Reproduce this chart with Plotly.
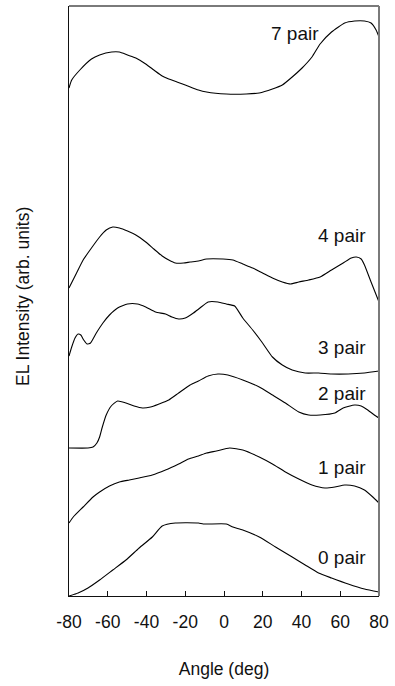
import plotly.graph_objects as go

# Angular electroluminescence profiles, vertically offset for each pair count
angle_0 = [-80, -75.3, -70.2, -64.2, -57.4, -50.6, -43.8, -37.0, -31.9, -25.1, -13.2, -10.7,
           1.2, 4.6, 9.7, 18.2, 26.6, 35.2, 41.9, 48.8, 55.5, 64.1, 72.5, 80]
el_0 = [0.00, 0.03, 0.08, 0.16, 0.26, 0.36, 0.48, 0.59, 0.70, 0.73, 0.73, 0.72,
        0.72, 0.69, 0.66, 0.59, 0.49, 0.39, 0.31, 0.23, 0.18, 0.12, 0.07, 0.04]

angle_1 = [-80, -77.8, -72.7, -67.6, -64.2, -59.1, -54.0, -48.9, -43.8, -37.0, -30.2, -23.4,
           -18.3, -13.2, -9.0, -3.9, 2.9, 9.7, 18.2, 25.0, 31.7, 38.6, 45.4, 52.1, 57.2,
           62.3, 67.4, 72.5, 76.8, 80]
el_1 = [0.73, 0.79, 0.89, 0.99, 1.04, 1.10, 1.14, 1.16, 1.18, 1.21, 1.26, 1.32,
        1.37, 1.40, 1.43, 1.45, 1.48, 1.46, 1.39, 1.32, 1.24, 1.17, 1.11, 1.08, 1.09,
        1.11, 1.10, 1.06, 0.99, 0.93]

angle_2 = [-80, -70.2, -67.6, -65.6, -64.2, -62.8, -60.8, -58.2, -54.9, -50.6, -46.4, -42.1,
           -37.9, -33.6, -28.5, -23.4, -17.5, -13.2, -8.2, -3.1, 2.0, 9.7, 18.2, 25.0,
           31.7, 38.6, 43.7, 49.6, 57.2, 61.5, 67.4, 70.8, 74.2, 77.6, 80]
el_2 = [1.48, 1.48, 1.49, 1.53, 1.59, 1.69, 1.81, 1.90, 1.95, 1.93, 1.90, 1.88,
        1.89, 1.92, 1.96, 2.03, 2.11, 2.15, 2.20, 2.22, 2.21, 2.16, 2.09, 2.01,
        1.93, 1.84, 1.81, 1.81, 1.83, 1.88, 1.91, 1.90, 1.86, 1.81, 1.78]

angle_3 = [-80, -78.6, -76.9, -75.3, -73.9, -72.4, -70.7, -68.9, -65.9, -62.5, -59.1, -54.9,
           -49.8, -44.7, -40.4, -35.3, -30.2, -26.9, -23.4, -20.0, -15.8, -12.4, -8.2, -3.1,
           1.2, 5.5, 9.7, 14.8, 19.9, 25.0, 30.1, 35.2, 41.9, 48.8, 55.5, 64.1, 72.5, 80]
el_3 = [2.40, 2.49, 2.58, 2.62, 2.61, 2.56, 2.52, 2.53, 2.63, 2.73, 2.81, 2.88,
        2.92, 2.92, 2.89, 2.84, 2.82, 2.79, 2.77, 2.78, 2.83, 2.88, 2.94, 2.94,
        2.92, 2.90, 2.78, 2.66, 2.53, 2.39, 2.31, 2.26, 2.23, 2.23, 2.22, 2.22, 2.23, 2.25]

angle_4 = [-80, -76.1, -72.7, -68.4, -64.2, -60.8, -57.4, -54.0, -49.8, -45.5, -40.4, -36.2,
           -31.9, -28.5, -25.1, -20.9, -17.5, -13.2, -9.0, -0.5, 4.6, 9.7, 14.8, 19.9,
           25.0, 30.1, 34.3, 38.6, 43.7, 49.6, 55.5, 61.5, 65.7, 68.3, 70.8, 72.5, 75.9, 80]
el_4 = [3.08, 3.23, 3.36, 3.48, 3.59, 3.66, 3.69, 3.68, 3.65, 3.61, 3.54, 3.47,
        3.40, 3.36, 3.33, 3.33, 3.34, 3.35, 3.37, 3.37, 3.36, 3.32, 3.28, 3.23,
        3.18, 3.14, 3.12, 3.14, 3.16, 3.19, 3.26, 3.33, 3.38, 3.39, 3.37, 3.31, 3.14, 2.94]

angle_7 = [-80, -78.6, -74.4, -68.4, -64.2, -58.0, -54.0, -49.8, -45.5, -40.4, -36.2, -31.9,
           -28.5, -24.3, -20.0, -13.2, -9.0, 1.2, 11.4, 18.2, 25.0, 30.1, 35.2, 40.3,
           45.4, 49.6, 55.5, 62.3, 67.4, 72.5, 75.9, 78.5, 80]
el_7 = [5.08, 5.16, 5.26, 5.37, 5.41, 5.44, 5.44, 5.41, 5.38, 5.32, 5.26, 5.20,
        5.17, 5.14, 5.11, 5.06, 5.04, 5.02, 5.02, 5.03, 5.07, 5.11, 5.19, 5.28,
        5.39, 5.52, 5.64, 5.73, 5.75, 5.75, 5.73, 5.66, 5.59]

curve_names = ["0 pair", "1 pair", "2 pair", "3 pair", "4 pair", "7 pair"]
x_ticks = [-80, -60, -40, -20, 0, 20, 40, 60, 80]

curves = [(angle_0, el_0), (angle_1, el_1), (angle_2, el_2),
          (angle_3, el_3), (angle_4, el_4), (angle_7, el_7)]

# where each curve's label sits (angle of right edge, height)
label_pos = {
    "0 pair": (74.5, 0.39),
    "1 pair": (74.5, 1.29),
    "2 pair": (74.5, 2.03),
    "3 pair": (74.5, 2.49),
    "4 pair": (74.5, 3.61),
    "7 pair": (49.9, 5.63),
}

FONT = "Liberation Sans, Arial, sans-serif"

fig = go.Figure()
for name, (ang, el) in zip(curve_names, curves):
    fig.add_trace(go.Scatter(
        x=ang, y=el, mode="lines", name=name,
        line=dict(color="#000000", width=1.1, shape="spline", smoothing=0.5),
        showlegend=False, hoverinfo="skip",
    ))
    lx, ly = label_pos[name]
    fig.add_annotation(
        x=lx, y=ly, text=name, showarrow=False,
        xanchor="right", yanchor="middle",
        font=dict(family=FONT, size=19, color="#111111"),
    )

# vertical axis title, placed explicitly left of the frame
fig.add_annotation(
    xref="paper", yref="paper", x=0, y=0.5, xshift=-46, yshift=4,
    text="EL Intensity (arb. units)", textangle=-90, showarrow=False,
    xanchor="center", yanchor="middle",
    font=dict(family=FONT, size=17.5, color="#111111"),
)

# grey top and right frame edges
fig.add_shape(type="line", xref="paper", yref="paper", x0=0, x1=1, y0=1, y1=1,
              line=dict(color="#7a7a7a", width=2))
fig.add_shape(type="line", xref="paper", yref="paper", x0=1, x1=1, y0=0, y1=1,
              line=dict(color="#7a7a7a", width=2))

fig.update_layout(
    width=395, height=686,
    margin=dict(l=69, r=12, t=6, b=90),
    paper_bgcolor="white", plot_bgcolor="white",
    font=dict(family=FONT, size=17, color="#111111"),
    xaxis=dict(
        range=[-80, 80], tickvals=x_ticks, ticktext=[str(v) for v in x_ticks],
        ticks="inside", ticklen=5, tickwidth=1, tickcolor="#111111",
        showline=True, linecolor="#111111", linewidth=1,
        showgrid=False, zeroline=False,
        ticklabelstandoff=10,
        tickfont=dict(family=FONT, size=17.5),
        title=dict(text="Angle (deg)", font=dict(family=FONT, size=17.5), standoff=31),
    ),
    yaxis=dict(
        range=[0, 5.9], showticklabels=False, ticks="",
        showline=True, linecolor="#111111", linewidth=1,
        showgrid=False, zeroline=False,
    ),
)

fig.write_html("out.html")
